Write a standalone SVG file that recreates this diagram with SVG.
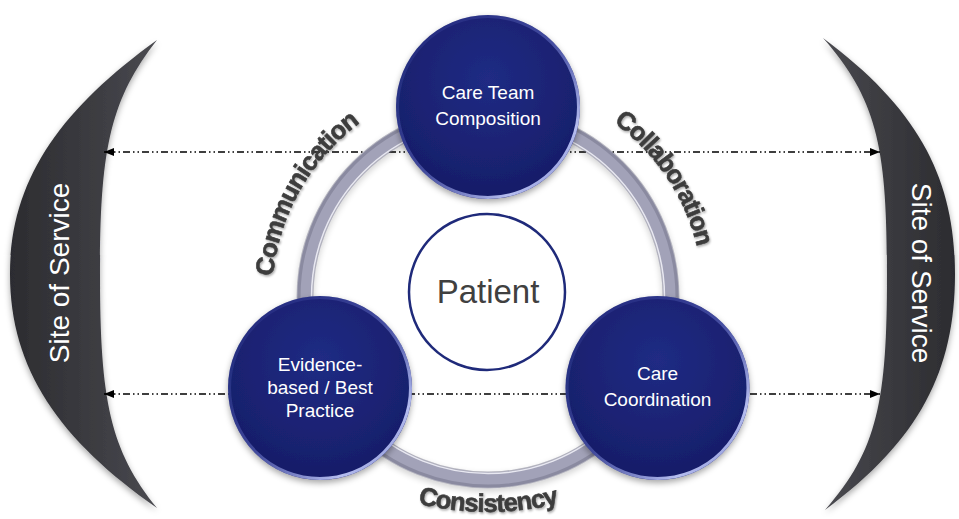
<svg xmlns="http://www.w3.org/2000/svg" width="959" height="519" viewBox="0 0 959 519">
<defs>
  <linearGradient id="cres" x1="0" y1="0" x2="1" y2="0">
    <stop offset="0" stop-color="#2c2c30"/>
    <stop offset="0.6" stop-color="#3d3d42"/>
    <stop offset="1" stop-color="#4a4a50"/>
  </linearGradient>
  <linearGradient id="cresR" x1="1" y1="0" x2="0" y2="0">
    <stop offset="0" stop-color="#2c2c30"/>
    <stop offset="0.6" stop-color="#3d3d42"/>
    <stop offset="1" stop-color="#4a4a50"/>
  </linearGradient>
  <radialGradient id="navy" cx="0.5" cy="0.35" r="0.7">
    <stop offset="0" stop-color="#202b84"/>
    <stop offset="1" stop-color="#161c66"/>
  </radialGradient>
  <linearGradient id="rim" x1="0" y1="0" x2="1" y2="1">
    <stop offset="0" stop-color="#2a3590" stop-opacity="0.2"/>
    <stop offset="0.5" stop-color="#6f7ad0" stop-opacity="0.5"/>
    <stop offset="0.8" stop-color="#c8d0ff" stop-opacity="0.9"/>
    <stop offset="1" stop-color="#9aa5ee" stop-opacity="0.7"/>
  </linearGradient>
  <filter id="shadow" x="-20%" y="-20%" width="140%" height="140%">
    <feDropShadow dx="0" dy="3" stdDeviation="3" flood-color="#000" flood-opacity="0.35"/>
  </filter>
  <filter id="tshadow" x="-10%" y="-10%" width="120%" height="120%">
    <feDropShadow dx="1" dy="1.5" stdDeviation="1" flood-color="#000" flood-opacity="0.35"/>
  </filter>
  <marker id="ah" viewBox="0 0 10 8" refX="10" refY="4" markerWidth="10" markerHeight="8" markerUnits="userSpaceOnUse" orient="auto-start-reverse">
    <path d="M0,0 L10,4 L0,8 Z" fill="#000"/>
  </marker>
  <path id="pComm" d="M301.9,406.6 A216,216 0 0 1 486.1,81.0"/>
  <path id="pColl" d="M473.0,82.5 A215,215 0 0 1 681.2,391.3"/>
  <path id="pCons" d="M228.2,362 A300,300 0 0 0 747.8,362"/>
</defs>
<style>
  .conn { fill: none; stroke: #000; stroke-width: 1.3; stroke-dasharray: 7 3 1.5 3 1.5 3; }
  .node-text { font-family: "Liberation Sans", Arial, sans-serif; font-size: 19px; fill: #ffffff; text-anchor: middle; }
  .site { font-family: "Liberation Sans", Arial, sans-serif; font-size: 28px; fill: #ffffff; text-anchor: middle; }
  .arc-label { font-family: "Liberation Sans", Arial, sans-serif; font-weight: bold; font-size: 25.5px; letter-spacing: -0.9px; fill: #3c3c3c; stroke: #3c3c3c; stroke-width: 0.6; }
  .navy { fill: url(#navy); filter: url(#shadow); }
</style>

<g id="site-left">
  <path d="M157,40 C60,110 10,180 10,274 C10,370 60,440 157,508 C110,450 100,400 100,274 C100,150 110,100 157,40 Z" fill="url(#cres)" filter="url(#shadow)"/>
  <text class="site" transform="translate(69,273) rotate(-90)">Site of Service</text>
</g>
<g id="site-right">
  <path d="M823,38 C920,110 955,180 955,274 C955,370 920,440 825,510 C878,450 887,400 887,274 C887,150 878,100 823,38 Z" fill="url(#cresR)" filter="url(#shadow)"/>
  <text class="site" transform="translate(912,273) rotate(90)">Site of Service</text>
</g>

<g id="connectors">
  <line class="conn" x1="104" y1="152" x2="880" y2="152" marker-start="url(#ah)" marker-end="url(#ah)"/>
  <line class="conn" x1="104" y1="394" x2="880" y2="394" marker-start="url(#ah)" marker-end="url(#ah)"/>
</g>

<g id="ring">
  <circle cx="488" cy="297" r="183" fill="none" stroke="#6e6e80" stroke-width="17" opacity="0.5" filter="url(#shadow)"/>
  <circle cx="488" cy="297" r="183" fill="none" stroke="#a2a2b8" stroke-width="15"/>
  <circle cx="488" cy="297" r="189" fill="none" stroke="#8a8aa0" stroke-width="3"/>
  <circle cx="488" cy="297" r="176.5" fill="none" stroke="#f4f4fa" stroke-width="1.5" opacity="0.85"/>
</g>

<g id="labels">
  <text class="arc-label" filter="url(#tshadow)"><textPath href="#pComm" startOffset="50%" text-anchor="middle">Communication</textPath></text>
  <text class="arc-label" filter="url(#tshadow)"><textPath href="#pColl" startOffset="50%" text-anchor="middle">Collaboration</textPath></text>
  <text class="arc-label" filter="url(#tshadow)"><textPath href="#pCons" startOffset="50%" text-anchor="middle">Consistency</textPath></text>
</g>

<g id="patient">
  <circle cx="487" cy="292" r="78" fill="#ffffff" stroke="#1f2a7a" stroke-width="2.5"/>
  <text x="488" y="303" font-family="'Liberation Sans', Arial, sans-serif" font-size="33" fill="#404040" text-anchor="middle">Patient</text>
</g>

<g id="care-team">
  <circle class="navy" cx="488" cy="107" r="92"/>
  <circle cx="488" cy="107" r="90.5" fill="none" stroke="url(#rim)" stroke-width="3"/>
  <text class="node-text" x="488" y="99">Care Team</text>
  <text class="node-text" x="488" y="125">Composition</text>
</g>

<g id="evidence">
  <circle class="navy" cx="320" cy="388" r="92"/>
  <circle cx="320" cy="388" r="90.5" fill="none" stroke="url(#rim)" stroke-width="3"/>
  <text class="node-text" x="320" y="371">Evidence-</text>
  <text class="node-text" x="320" y="394">based / Best</text>
  <text class="node-text" x="320" y="417">Practice</text>
</g>

<g id="coordination">
  <circle class="navy" cx="657.5" cy="388" r="92"/>
  <circle cx="657.5" cy="388" r="90.5" fill="none" stroke="url(#rim)" stroke-width="3"/>
  <text class="node-text" x="657.5" y="380">Care</text>
  <text class="node-text" x="657.5" y="406">Coordination</text>
</g>
</svg>
